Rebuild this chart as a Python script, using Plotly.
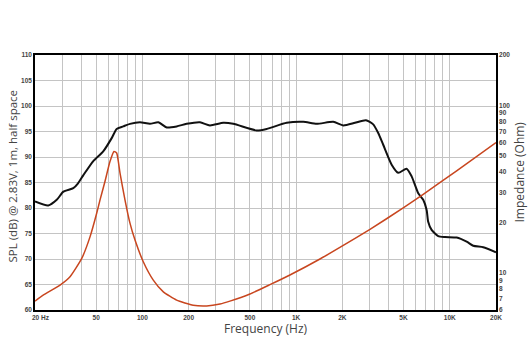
import plotly.graph_objects as go

# SPL response (black)
spl_freq = [20, 24.4, 27.7, 30.6, 35.5, 38, 41.2, 47.9, 55.6, 63.1, 68, 75, 83, 96.4,
            112, 127, 144, 167, 194, 237, 275, 336, 390, 554, 644, 869, 1114, 1361,
            1746, 2028, 2416, 2848, 3177, 3424, 3690, 4188, 4624, 5236, 5650, 6238,
            6720, 7074, 7240, 7620, 8412, 9310, 11090, 12880, 14220, 16520, 20000]
spl_db = [81.3, 80.5, 81.6, 83.2, 83.9, 84.8, 86.4, 89.2, 91.1, 93.7, 95.5, 96.0, 96.5, 96.8,
          96.5, 96.8, 95.8, 96.0, 96.5, 96.8, 96.2, 96.7, 96.5, 95.2, 95.5, 96.7, 96.9, 96.5,
          96.9, 96.2, 96.7, 97.2, 96.4, 94.7, 92.4, 88.5, 86.9, 87.7, 86.2, 82.9,
          81.6, 79.6, 77.3, 75.7, 74.5, 74.3, 74.2, 73.4, 72.6, 72.3, 71.3]

# Impedance (red)
imp_freq = [20, 22.6, 29.1, 33.8, 40.3, 45.6, 50.4, 53, 57, 61.5, 65.3, 68, 71.5, 77, 83,
            89.5, 101.3, 117.7, 136.8, 167, 214, 262, 320, 371, 501, 676, 912, 1430,
            2028, 3026, 4980, 6720, 11090, 20000]
imp_ohm = [6.78, 7.35, 8.45, 9.48, 12.2, 16.4, 22.7, 27.3, 35.0, 46.2, 53.1, 52.0, 39.4, 27.3, 19.8,
           15.7, 11.65, 9.05, 7.70, 6.87, 6.41, 6.35, 6.52, 6.78, 7.48, 8.5, 9.71, 12.1,
           14.6, 18.2, 24.4, 29.4, 40.7, 60.0]

x_tickvals = [20, 50, 100, 200, 500, 1000, 2000, 5000, 10000, 20000]
x_ticktext = ["\u00a0\u00a0\u00a0\u00a0\u00a0\u00a020 Hz", "50", "100", "200", "500", "1K", "2K", "5K", "10K", "20K"]
x_minor = [30, 40, 60, 70, 80, 90, 300, 400, 600, 700, 800, 900,
           3000, 4000, 6000, 7000, 8000, 9000]
spl_ticks = [60, 65, 70, 75, 80, 85, 90, 95, 100, 105, 110]
imp_ticks = [6, 7, 8, 9, 10, 20, 30, 40, 50, 60, 70, 80, 90, 100, 200]

GRID = "#c4c4c4"
tickfont = dict(family="Arial", size=6.5, color="#444", weight="bold")
titlefont = dict(family="Open Sans", size=12, color="#444")

fig = go.Figure()
fig.add_trace(go.Scatter(x=spl_freq, y=spl_db, mode="lines",
                         line=dict(color="#111111", width=2, shape="spline", smoothing=0.6),
                         hoverinfo="skip", showlegend=False))
fig.add_trace(go.Scatter(x=imp_freq, y=imp_ohm, mode="lines", yaxis="y2",
                         line=dict(color="#c8461f", width=1.5, shape="spline", smoothing=0.5),
                         hoverinfo="skip", showlegend=False))

fig.update_layout(
    width=531, height=344,
    margin=dict(l=35, r=35, t=55, b=34),
    paper_bgcolor="white", plot_bgcolor="white",
    xaxis=dict(type="log", range=[1.30103, 4.30103],
               tickmode="array", tickvals=x_tickvals, ticktext=x_ticktext,
               tickfont=tickfont, showgrid=True, gridcolor=GRID, gridwidth=1,
               minor=dict(tickmode="array", tickvals=x_minor, showgrid=True,
                          gridcolor=GRID, gridwidth=1),
               showline=True, linecolor="black", linewidth=1.5, mirror=True,
               zeroline=False, ticks=""),
    yaxis=dict(range=[60, 110], tickmode="array", tickvals=spl_ticks,
               tickfont=tickfont, showgrid=True, gridcolor=GRID, gridwidth=1,
               showline=True, linecolor="black", linewidth=1.5,
               zeroline=False, ticks=""),
    yaxis2=dict(type="log", range=[0.778151, 2.30103], overlaying="y", side="right",
                tickmode="array", tickvals=imp_ticks, tickfont=tickfont,
                showgrid=False, showline=True, linecolor="black", linewidth=1.5,
                zeroline=False, ticks=""),
    annotations=[
        dict(text="SPL (dB) @ 2.83V, 1m, half space", xref="paper", yref="paper",
             x=0, y=0.5, xanchor="center", yanchor="middle", xshift=-23, yshift=6,
             textangle=-90, showarrow=False,
             font=dict(family="Open Sans", size=11.5, color="#444")),
        dict(text="Impedance (Ohm)", xref="paper", yref="paper",
             x=1, y=0.5, xanchor="center", yanchor="middle", xshift=23, yshift=10,
             textangle=-90, showarrow=False, font=titlefont),
        dict(text="Frequency (Hz)", xref="paper", yref="paper",
             x=0.5, y=0, xanchor="center", yanchor="middle", yshift=-18,
             showarrow=False, font=titlefont),
    ],
)

fig.write_html("out.html")
